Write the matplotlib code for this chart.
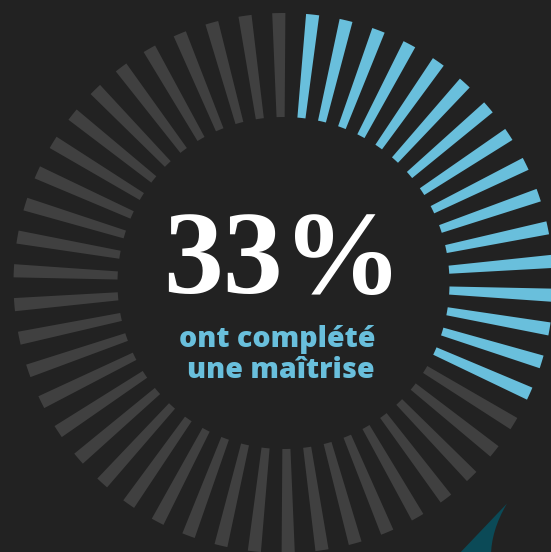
import numpy as np
import matplotlib
matplotlib.use("Agg")
import matplotlib.pyplot as plt
from matplotlib.path import Path
from matplotlib.patches import PathPatch

# ---- data ----
percent_label = "33%"
subtitle_lines = ["ont complété", "une maîtrise"]
n_bars = 50
# bar 0 sits at 12 o'clock (grey), then 16 filled bars clockwise, rest grey
bar_filled = [False] + [True] * 16 + [False] * 33

# ---- style ----
BG = "#222222"
BLUE = "#69bfdc"
GREY = "#404040"
TEAL = "#0b4a57"

W, H = 551, 552
fig = plt.figure(figsize=(W / 100, H / 100), dpi=100, facecolor=BG)

cx, cy, R = 283.5, 283.0, 270.0  # pixel coords (y from top)
ax = fig.add_axes([(cx - R) / W, (H - cy - R) / H, 2 * R / W, 2 * R / H],
                  projection="polar")
ax.set_facecolor("none")
ax.set_theta_zero_location("N")
ax.set_theta_direction(-1)
ax.set_ylim(0, R)
ax.axis("off")

step = 2 * np.pi / n_bars
offset = np.deg2rad(-1.0)
idx = np.arange(n_bars)
theta = offset + idx * step
colors = [BLUE if f else GREY for f in bar_filled]
r_in, r_out = 166.0, 270.0
ax.bar(theta, [r_out - r_in] * n_bars, width=np.deg2rad(2.8), bottom=r_in,
       color=colors, edgecolor="none", align="center", clip_on=False)

# teal decorative shape at bottom right (pixel coords, y from top)
def px(x, y):
    return (x / W, (H - y) / H)

verts = [px(507, 503.5), px(457, 556), px(491, 556), px(491, 540), px(496, 522), px(507, 503.5)]
codes = [Path.MOVETO, Path.LINETO, Path.LINETO, Path.CURVE4, Path.CURVE4, Path.CURVE4]
fig.patches.append(PathPatch(Path(verts, codes), transform=fig.transFigure,
                             facecolor=TEAL, edgecolor="none"))

# central texts
fig.text(282.5 / W, (H - 293) / H, percent_label, ha="center", va="baseline",
         color="white", fontsize=86, fontweight="bold", family="Liberation Serif")
fig.text(277 / W, (H - 347) / H, subtitle_lines[0], ha="center", va="baseline",
         color=BLUE, fontsize=20.5, fontweight=800, family="Open Sans")
fig.text(280.5 / W, (H - 378) / H, subtitle_lines[1], ha="center", va="baseline",
         color=BLUE, fontsize=20.5, fontweight=800, family="Open Sans")

fig.savefig("out.png", dpi=100, facecolor=BG)
